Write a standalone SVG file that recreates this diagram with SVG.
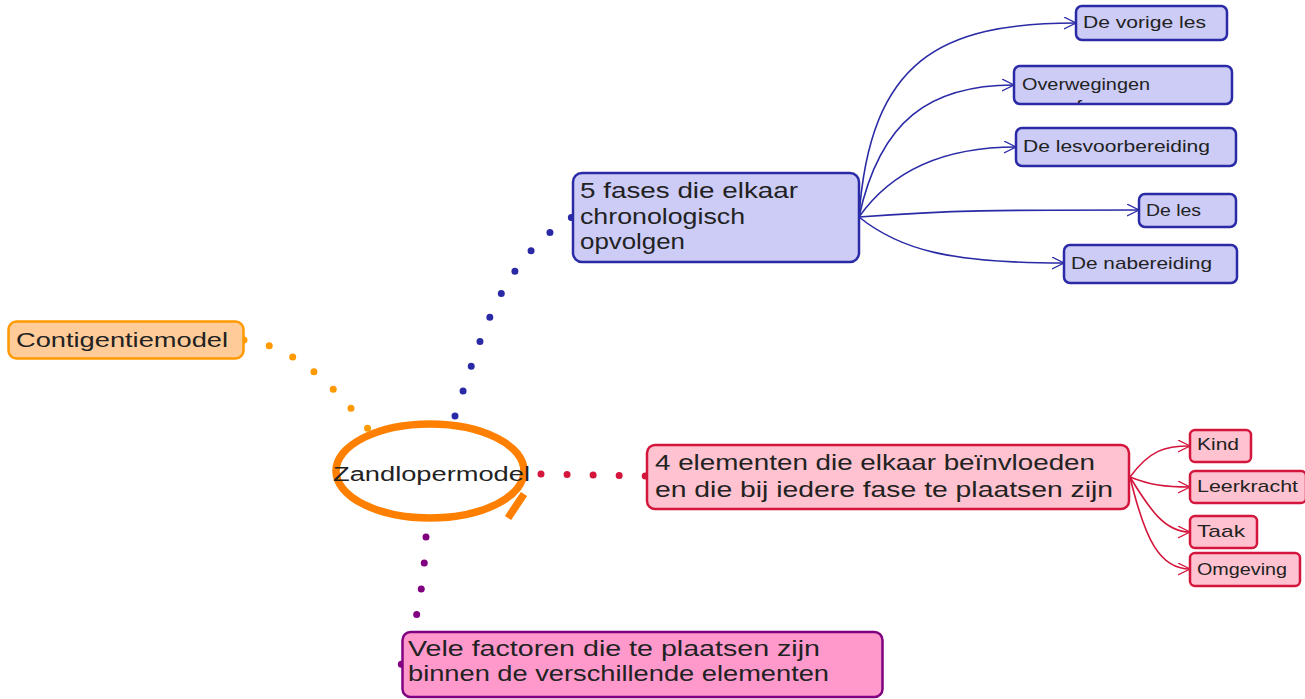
<svg xmlns="http://www.w3.org/2000/svg" width="1305" height="699" viewBox="0 0 1305 699">
<style>
text{font-family:"Liberation Sans","Open Sans",sans-serif;fill:#222;}
.t20{font-size:20px}
.t22{font-size:22px}
.t17{font-size:17px}
.blue rect{fill:#CCCCF7;stroke:#2A2AA6;stroke-width:2.5}
.red rect{fill:#FFC2D0;stroke:#D4163C;stroke-width:2.5}
.bl{fill:none;stroke:#2A2AA6;stroke-width:1.6}
.rl{fill:none;stroke:#D4163C;stroke-width:1.6}
.dot{fill:none;stroke-width:7;stroke-linecap:round;stroke-dasharray:0 1}
</style>
<defs>
<marker id="ab" markerUnits="userSpaceOnUse" markerWidth="14" markerHeight="14" refX="12" refY="6" orient="auto">
<path d="M0,0 L12,6 L0,12" fill="none" stroke="#2A2AA6" stroke-width="1.3"/>
</marker>
<marker id="ar" markerUnits="userSpaceOnUse" markerWidth="14" markerHeight="14" refX="12" refY="6" orient="auto">
<path d="M0,0 L12,6 L0,12" fill="none" stroke="#D4163C" stroke-width="1.3"/>
</marker>
<clipPath id="clipOv"><rect x="1014" y="66" width="218" height="37"/></clipPath>
</defs>
<rect width="1305" height="699" fill="#fff"/>

<g id="connectors">
<path class="dot" stroke="#FF9900" pathLength="6.03" d="M244,340 C290,345 330,380 368,429"/>
<path class="dot" stroke="#2A2AA6" pathLength="9.03" d="M455,416 C480,340 500,260 572,217"/>
<path class="dot" stroke="#D4163C" pathLength="4.03" d="M541,474 L646,476"/>
<path class="dot" stroke="#800080" pathLength="5.03" d="M426,537 C424,580 418,625 401,665"/>
<path class="bl" marker-end="url(#ab)" d="M859,217 C870,60 940,23 1076,23"/>
<path class="bl" marker-end="url(#ab)" d="M859,217 C880,120 930,85 1014,85"/>
<path class="bl" marker-end="url(#ab)" d="M859,217 C885,180 930,147 1016,147"/>
<path class="bl" marker-end="url(#ab)" d="M859,217 C950,210 1000,210 1139,210"/>
<path class="bl" marker-end="url(#ab)" d="M859,217 C900,250 950,263 1064,263"/>
<path class="rl" marker-end="url(#ar)" d="M1130,477 C1150,450 1165,446 1190,446"/>
<path class="rl" marker-end="url(#ar)" d="M1130,477 C1150,485 1165,487 1190,487"/>
<path class="rl" marker-end="url(#ar)" d="M1130,477 C1150,510 1165,532 1190,532"/>
<path class="rl" marker-end="url(#ar)" d="M1130,477 C1145,540 1160,569 1190,569"/>
</g>

<g id="n-contigentie">
<rect x="8.5" y="321.5" width="235" height="37" rx="8" fill="#FFCC99" stroke="#FF9900" stroke-width="2.5"/>
<text class="t20" x="16" y="347" textLength="212" lengthAdjust="spacingAndGlyphs">Contigentiemodel</text>
</g>

<g id="n-zandloper">
<ellipse cx="430" cy="471" rx="94" ry="47" fill="none" stroke="#FF8000" stroke-width="7.5"/>
<line x1="524" y1="494" x2="508" y2="518" stroke="#FF8000" stroke-width="7.5"/>
<text class="t20" x="333" y="481" textLength="197" lengthAdjust="spacingAndGlyphs">Zandlopermodel</text>
</g>

<g id="n-5fases" class="blue">
<rect x="573" y="173" width="286" height="89" rx="9"/>
<text class="t22" x="580" y="198" textLength="218" lengthAdjust="spacingAndGlyphs">5 fases die elkaar</text>
<text class="t22" x="580" y="224" textLength="165" lengthAdjust="spacingAndGlyphs">chronologisch</text>
<text class="t22" x="580" y="249" textLength="105" lengthAdjust="spacingAndGlyphs">opvolgen</text>
</g>

<g id="n-vorige" class="blue">
<rect x="1076" y="6" width="151" height="34" rx="6"/>
<text class="t17" x="1083" y="28" textLength="123" lengthAdjust="spacingAndGlyphs">De vorige les</text>
</g>

<g id="n-overwegingen" class="blue">
<rect x="1014" y="66" width="218" height="38" rx="6"/>
<g clip-path="url(#clipOv)">
<text class="t17" x="1022" y="90" textLength="128" lengthAdjust="spacingAndGlyphs">Overwegingen</text>
<text class="t17" x="1022" y="112" textLength="60" lengthAdjust="spacingAndGlyphs">vooraf</text>
</g>
</g>

<g id="n-lesvoorbereiding" class="blue">
<rect x="1016" y="128" width="220" height="38" rx="6"/>
<text class="t17" x="1023" y="152" textLength="187" lengthAdjust="spacingAndGlyphs">De lesvoorbereiding</text>
</g>

<g id="n-les" class="blue">
<rect x="1139" y="194" width="97" height="33" rx="6"/>
<text class="t17" x="1146" y="216" textLength="55" lengthAdjust="spacingAndGlyphs">De les</text>
</g>

<g id="n-nabereiding" class="blue">
<rect x="1064" y="245" width="173" height="38" rx="6"/>
<text class="t17" x="1071" y="269" textLength="141" lengthAdjust="spacingAndGlyphs">De nabereiding</text>
</g>

<g id="n-4elementen" class="red">
<rect x="647" y="445" width="482" height="64" rx="8"/>
<text class="t22" x="655" y="470" textLength="440" lengthAdjust="spacingAndGlyphs">4 elementen die elkaar beïnvloeden</text>
<text class="t22" x="655" y="497" textLength="458" lengthAdjust="spacingAndGlyphs">en die bij iedere fase te plaatsen zijn</text>
</g>

<g id="n-kind" class="red">
<rect x="1190" y="430" width="61" height="32" rx="5"/>
<text class="t17" x="1197" y="450" textLength="42" lengthAdjust="spacingAndGlyphs">Kind</text>
</g>

<g id="n-leerkracht" class="red">
<rect x="1190" y="471" width="116" height="32" rx="5"/>
<text class="t17" x="1197" y="492" textLength="101" lengthAdjust="spacingAndGlyphs">Leerkracht</text>
</g>

<g id="n-taak" class="red">
<rect x="1190" y="516" width="67" height="32" rx="5"/>
<text class="t17" x="1197" y="537" textLength="48" lengthAdjust="spacingAndGlyphs">Taak</text>
</g>

<g id="n-omgeving" class="red">
<rect x="1190" y="553" width="110" height="33" rx="5"/>
<text class="t17" x="1197" y="575" textLength="90" lengthAdjust="spacingAndGlyphs">Omgeving</text>
</g>

<g id="n-factoren">
<rect x="402.5" y="632" width="480" height="65" rx="8" fill="#FF99CC" stroke="#800080" stroke-width="2.5"/>
<text class="t22" x="408" y="656" textLength="412" lengthAdjust="spacingAndGlyphs">Vele factoren die te plaatsen zijn</text>
<text class="t22" x="408" y="681" textLength="421" lengthAdjust="spacingAndGlyphs">binnen de verschillende elementen</text>
</g>
</svg>
